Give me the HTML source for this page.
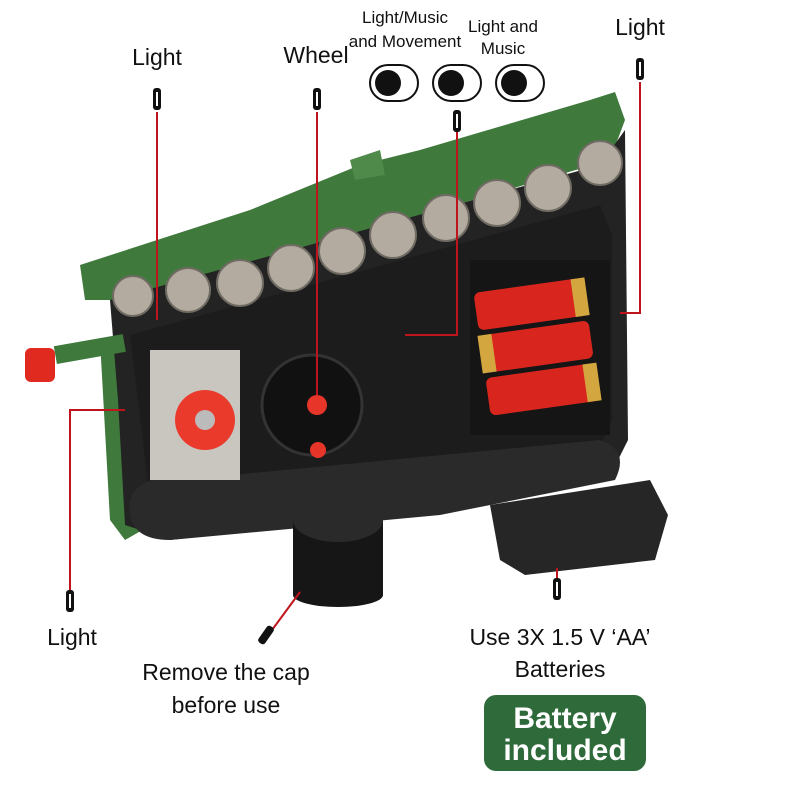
<!DOCTYPE html>
<html><head><meta charset="utf-8"><style>
body{margin:0;background:#fff;width:800px;height:800px;overflow:hidden}
svg{display:block}
text{font-family:"Liberation Sans Narrow","Liberation Sans",sans-serif;fill:#111}
</style></head><body>
<svg width="800" height="800" viewBox="0 0 800 800">
<polygon points="80,265 250,210 360,165 420,150 590,100 615,92 625,120 610,160 130,300 85,300" fill="#3f7a3c"/>
<polygon points="350,160 380,150 385,175 355,180" fill="#4f8a4a"/>
<polygon points="100,340 150,330 160,520 125,540 110,520" fill="#3f7a3c"/>
<polygon points="110,300 600,165 625,130 628,440 608,480 440,510 170,540 125,525 118,400" fill="#232323"/>
<polygon points="130,335 600,205 612,235 612,420 590,470 440,500 150,500" fill="#1c1c1c"/>
<path d="M130,500 Q140,470 200,478 L600,440 Q630,450 615,480 L440,515 L170,540 Q125,540 130,500Z" fill="#2a2a2a"/>
<g fill="#b3aba0" stroke="#6f6a62" stroke-width="2">
<circle cx="133" cy="296" r="20"/><circle cx="188" cy="290" r="22"/><circle cx="240" cy="283" r="23"/>
<circle cx="291" cy="268" r="23"/><circle cx="342" cy="251" r="23"/><circle cx="393" cy="235" r="23"/>
<circle cx="446" cy="218" r="23"/><circle cx="497" cy="203" r="23"/><circle cx="548" cy="188" r="23"/>
<circle cx="600" cy="163" r="22"/>
</g>
<rect x="55" y="340" width="70" height="18" fill="#3f7a3c" transform="rotate(-10 90 350)"/>
<rect x="25" y="348" width="30" height="34" rx="6" fill="#e02a20"/>
<rect x="150" y="350" width="90" height="130" fill="#c9c6c0"/>
<circle cx="205" cy="420" r="30" fill="#ea3a2c"/><circle cx="205" cy="420" r="10" fill="#bbb"/>
<circle cx="312" cy="405" r="50" fill="#111" stroke="#333" stroke-width="3"/>
<circle cx="317" cy="405" r="10" fill="#e8352a"/><circle cx="318" cy="450" r="8" fill="#e8352a"/>
<rect x="470" y="260" width="140" height="175" fill="#151515"/>
<g transform="rotate(-8 535 350)">
<rect x="482" y="285" width="110" height="38" rx="6" fill="#d8261e"/><rect x="580" y="285" width="14" height="38" fill="#d4a640"/>
<rect x="482" y="328" width="110" height="38" rx="6" fill="#d8261e"/><rect x="480" y="328" width="14" height="38" fill="#d4a640"/>
<rect x="482" y="371" width="110" height="38" rx="6" fill="#d8261e"/><rect x="580" y="371" width="14" height="38" fill="#d4a640"/>
</g>
<rect x="293" y="520" width="90" height="75" fill="#161616"/>
<ellipse cx="338" cy="595" rx="45" ry="12" fill="#161616"/>
<ellipse cx="338" cy="520" rx="45" ry="22" fill="#2a2a2a"/>
<polygon points="490,505 650,480 668,515 655,560 525,575 500,560" fill="#262626"/>
<g stroke="#111" stroke-width="2" fill="#fff">
<rect x="370" y="65" width="48" height="36" rx="18"/><rect x="433" y="65" width="48" height="36" rx="18"/><rect x="496" y="65" width="48" height="36" rx="18"/>
</g>
<circle cx="388" cy="83" r="13" fill="#111"/><circle cx="451" cy="83" r="13" fill="#111"/><circle cx="514" cy="83" r="13" fill="#111"/>
<g stroke="#c0141c" stroke-width="2" fill="none">
<line x1="157" y1="112" x2="157" y2="320"/>
<polyline points="317,112 317,395"/>
<polyline points="457,132 457,335 405,335"/>
<polyline points="640,82 640,313 620,313"/>
<polyline points="70,590 70,410 125,410"/>
<line x1="272" y1="630" x2="300" y2="592"/>
<line x1="557" y1="568" x2="557" y2="578"/>
</g>
<g fill="#111">
<rect x="153" y="88" width="8" height="22" rx="3"/><rect x="313" y="88" width="8" height="22" rx="3"/>
<rect x="453" y="110" width="8" height="22" rx="3"/><rect x="636" y="58" width="8" height="22" rx="3"/>
<rect x="66" y="590" width="8" height="22" rx="3"/><rect x="553" y="578" width="8" height="22" rx="3"/>
<rect x="262" y="625" width="8" height="20" rx="3" transform="rotate(35 266 635)"/>
</g>
<g fill="#fff">
<rect x="156" y="92" width="2" height="14"/><rect x="316" y="92" width="2" height="14"/><rect x="456" y="114" width="2" height="14"/>
<rect x="639" y="62" width="2" height="14"/><rect x="69" y="594" width="2" height="14"/><rect x="556" y="582" width="2" height="14"/>
</g>
<g font-size="23" text-anchor="middle">
<text x="157" y="65">Light</text>
<text x="316" y="63">Wheel</text>
<text x="640" y="35">Light</text>
<text x="72" y="645">Light</text>
<text x="226" y="680">Remove the cap</text>
<text x="226" y="713">before use</text>
<text x="560" y="645">Use 3X 1.5 V ‘AA’</text>
<text x="560" y="677">Batteries</text>
</g>
<g font-size="17" text-anchor="middle">
<text x="405" y="23">Light/Music</text><text x="405" y="47">and Movement</text>
<text x="503" y="32">Light and</text><text x="503" y="54">Music</text>
</g>
<rect x="484" y="695" width="162" height="76" rx="12" fill="#2f6a3a"/>
<g font-size="30" font-weight="bold" text-anchor="middle">
<text x="565" y="728" style="fill:#fff">Battery</text>
<text x="565" y="760" style="fill:#fff">included</text>
</g>
</svg>
</body></html>
